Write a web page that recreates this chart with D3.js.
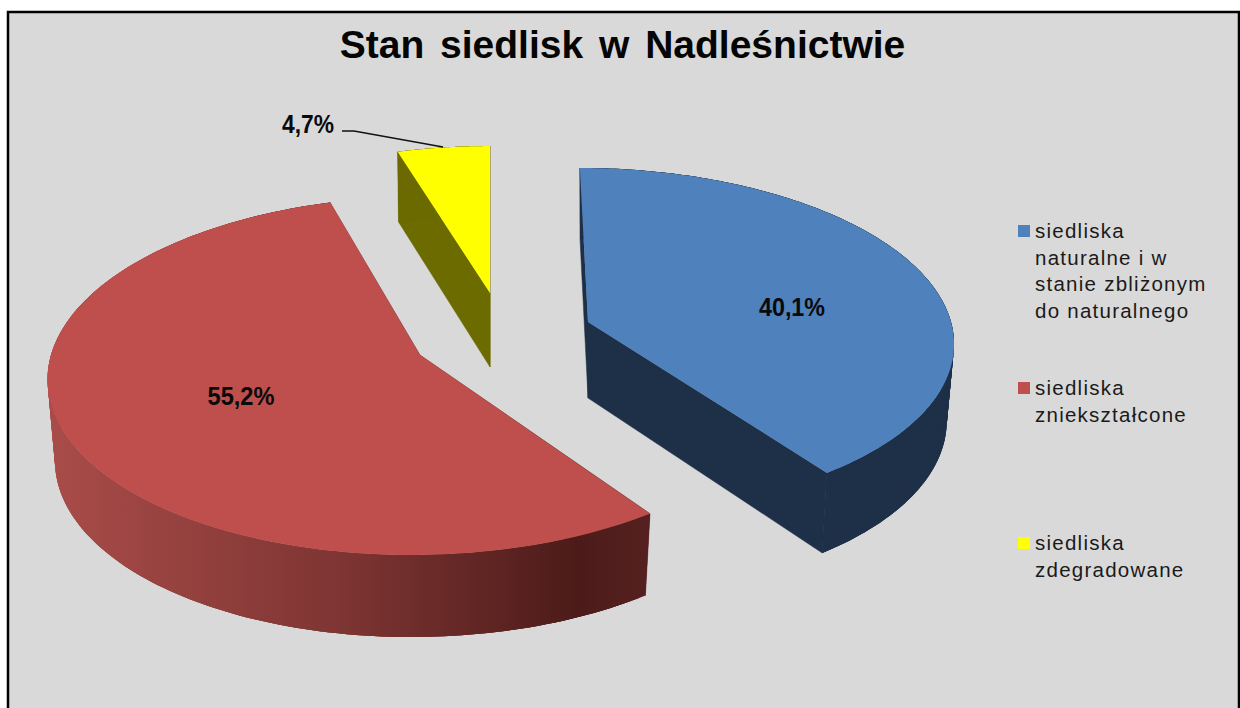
<!DOCTYPE html>
<html><head><meta charset="utf-8">
<script src="https://cdn.jsdelivr.net/npm/d3@7"></script>
<style>html,body{margin:0;padding:0;background:#fff;overflow:hidden}svg{display:block}</style>
</head><body><svg id="c" width="1240" height="708"></svg>
<script>
const title = "Stan siedlisk w Nadleśnictwie";
const categories = ["siedliska naturalne i w stanie zbliżonym do naturalnego","siedliska zniekształcone","siedliska zdegradowane"];
const legendLines = [["siedliska","naturalne i w","stanie zbliżonym","do naturalnego"],["siedliska","zniekształcone"],["siedliska","zdegradowane"]];
const values = [40.1,55.2,4.7];
const topColors = ["#4f81bd","#be4f4c","#ffff00"];
const sideColors = ["#1e3048","url(#redSide)","#6b6b00"];

// per-slice projection of the exploded 3D pie
const views = [
 {ax:588,ay:322,rx:363,ry:170,k:.104,c:9,s:.98,d0:76,d1:5,lx:792,ly:307,lw:66},
 {ax:420,ay:355,rx:369,ry:177,k:.115,c:-8,s:.98,d0:81,d1:1,lx:241,ly:396,lw:67},
 {ax:490,ay:293,rx:357,ry:166,k:.13,c:0,s:.99,d0:74,d1:4,lx:308,ly:124,lw:52}
];
const fmt = v => d3.format(".1f")(v).replace(".",",")+"%";
const svg = d3.select("#c");
const defs = svg.append("defs");
const grad = defs.append("linearGradient").attr("id","redSide").attr("gradientUnits","userSpaceOnUse")
  .attr("x1",50).attr("x2",650).attr("y1",0).attr("y2",0);
[[0,"#a94c49"],[.5,"#7c3432"],[.88,"#4c1b19"],[1,"#552120"]].forEach(([o,c])=>grad.append("stop").attr("offset",o).attr("stop-color",c));

svg.append("rect").attr("x",8).attr("y",12).attr("width",1231).attr("height",720)
  .attr("fill","#d9d9d9").attr("stroke","#000").attr("stroke-width",2.5);

const arcs = d3.pie().sort(null).value(d=>d)(values);
function proj(v,a){
  const u=Math.sin(a), n=-Math.cos(a), w=1-v.k*n;
  return {x:v.ax+(v.rx*u+v.c*n)/w, y:v.ay+v.ry*n/w, n};
}
const under=(v,p)=>({x:v.ax+(p.x-v.ax)*v.s, y:p.y+v.d0+v.d1*p.n});
const line=d3.line().x(d=>d.x).y(d=>d.y);
const apex=v=>({x:v.ax,y:v.ay,n:0});

arcs.forEach((d,i)=>{
  const v=views[i], g=svg.append("g");
  const steps=d3.range(0,161).map(t=>proj(v,d.startAngle+(d.endAngle-d.startAngle)*t/160));
  const fill=sideColors[i], a=apex(v);
  // radial walls
  [steps[0],steps[steps.length-1]].forEach(p=>{
    g.append("path").attr("d",line([a,p,under(v,p),under(v,a)])+"Z")
     .attr("fill",fill).attr("stroke",fill).attr("stroke-width",.5);
  });
  // curved rim wall: overlapping quads, so that no seams show
  steps.forEach((p,j)=>{
    const q=steps[Math.min(j+3,steps.length-1)];
    if(q===p) return;
    const m=steps.slice(j,j+4);
    g.append("path").attr("d",line([...m,...m.map(o=>under(v,o)).reverse()])+"Z").attr("fill",fill);
  });
  // top face
  g.append("path").attr("d",line([a,...steps])+"Z").attr("fill",topColors[i]);
});

// leader line of the small slice
svg.append("path").attr("d","M342,131L354,131L443,147").attr("fill","none").attr("stroke","#111").attr("stroke-width",1.3);

// data labels
arcs.forEach((d,i)=>{
  svg.append("text").attr("x",views[i].lx).attr("y",views[i].ly+9).attr("text-anchor","middle")
   .attr("font-family","'Liberation Sans',sans-serif").attr("font-weight","bold")
   .attr("font-size",26).attr("textLength",views[i].lw).attr("lengthAdjust","spacingAndGlyphs")
   .attr("fill","#0a0a0a").text(fmt(d.data));
});

svg.append("text").attr("x",622.5).attr("y",58).attr("text-anchor","middle")
  .attr("font-family","'Liberation Sans',Arial,sans-serif").attr("font-weight","bold").attr("font-size",39)
  .attr("word-spacing",5).attr("fill","#050505").text(title);

const legY=[238,395,550];
categories.forEach((c,i)=>{
  svg.append("rect").attr("x",1018).attr("y",legY[i]-13).attr("width",12).attr("height",12).attr("fill",topColors[i]);
  const t=svg.append("text").attr("font-family","'Liberation Sans',Arial,sans-serif").attr("font-size",20.5)
    .attr("letter-spacing",1.25).attr("fill","#1a1a1a");
  legendLines[i].forEach((l,j)=>t.append("tspan").attr("x",1035).attr("y",legY[i]+j*26.6).text(l));
});
</script></body></html>
